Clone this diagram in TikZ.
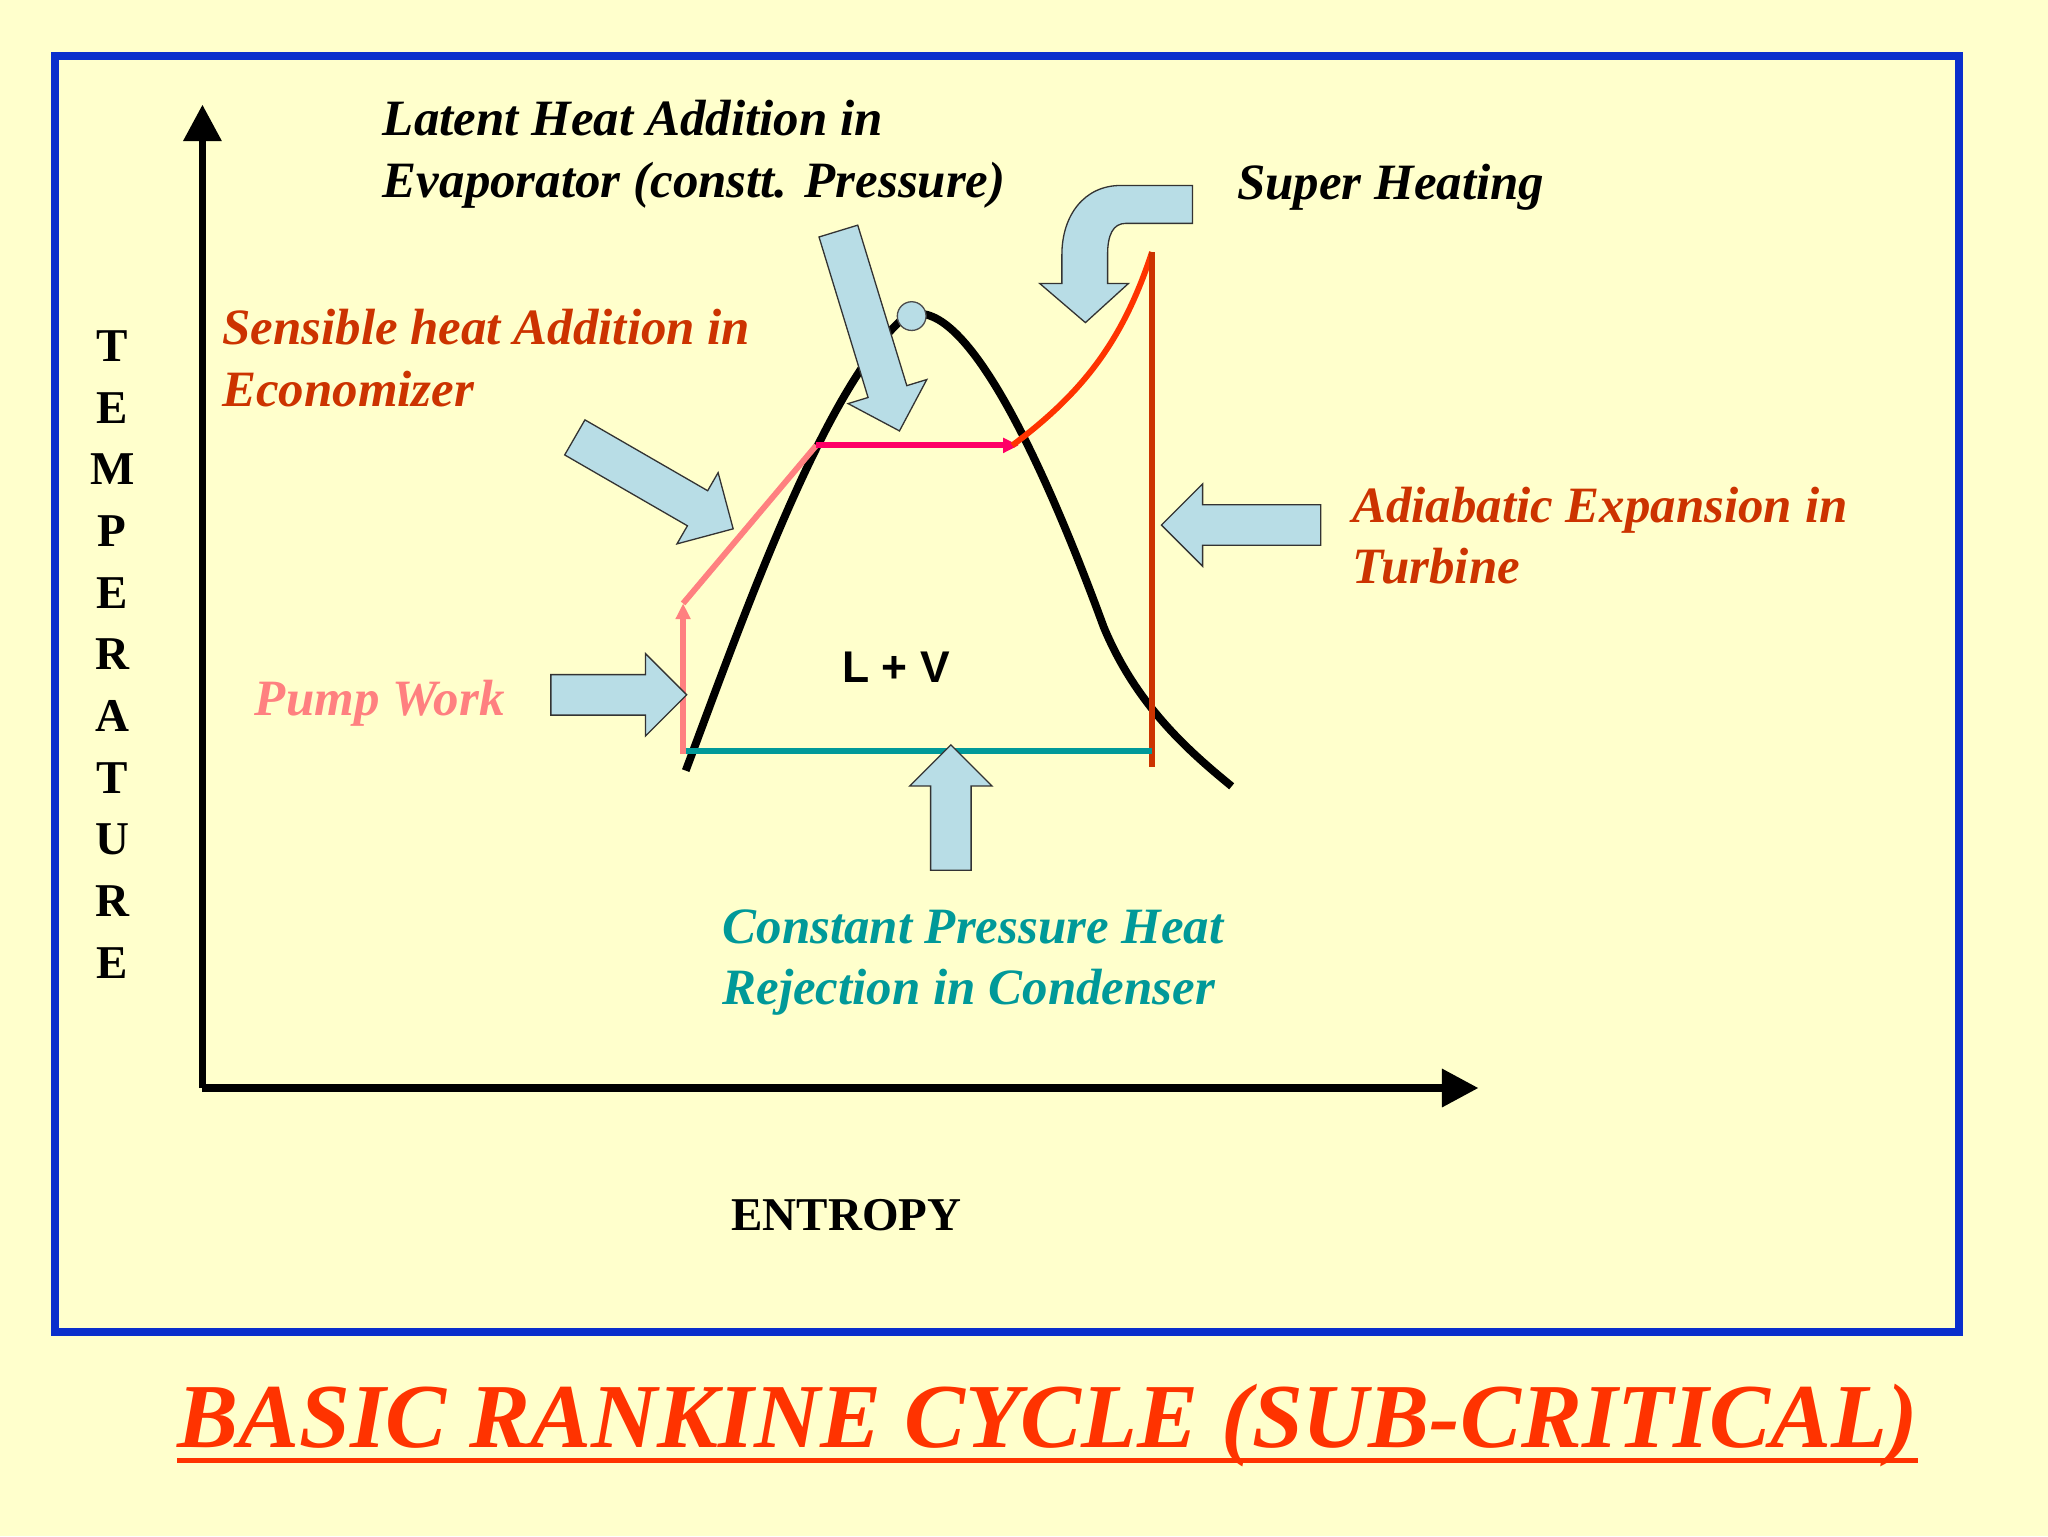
\documentclass[tikz,border=0pt]{standalone}
\usepackage{fontspec}
\setmainfont{Liberation Serif}
\newfontfamily\sansf{Liberation Sans}
\usetikzlibrary{shapes.arrows,arrows.meta}
\definecolor{bg}{HTML}{FFFFCC}
\definecolor{frame}{HTML}{0A2FCC}
\definecolor{lab}{HTML}{CC3300}
\definecolor{pumpc}{HTML}{FF8080}
\definecolor{tealc}{HTML}{009999}
\definecolor{magc}{HTML}{FF0066}
\definecolor{supc}{HTML}{FF3300}
\definecolor{arrf}{HTML}{B8DDE6}
\begin{document}
\begin{tikzpicture}[x=1pt,y=-1pt,
  barrow/.style={single arrow,draw=black!80,fill=arrf,line width=1pt,minimum width=62pt,single arrow head extend=16pt,single arrow head indent=0pt,inner xsep=0pt,inner ysep=15pt,anchor=center},
  lbl/.style={font=\fontsize{39}{44}\selectfont\bfseries\itshape,anchor=base west,inner sep=0pt},
  axl/.style={font=\fontsize{36}{40}\selectfont\bfseries,inner sep=0pt},
  cyc/.style={line width=4.5pt}]
\fill[bg] (0,0) rectangle (1568,1176);
\useasboundingbox (0,0) rectangle (1568,1176);
\draw[frame,line width=6pt] (42,43) rectangle (1500,1020);
% axes
\coordinate (o) at (155,833);
\coordinate (ytop) at (155,80);
\coordinate (xend) at (1132,833);
\draw[line width=6pt,-{Triangle[length=28pt,width=28pt]}] (o) -- (ytop);
\draw[line width=6pt,-{Triangle[length=28pt,width=28pt]}] (o) -- (xend);
\foreach \l [count=\i] in {T,E,M,P,E,R,A,T,U,R,E}
  \node[axl] (t\i) at (86,{265+47.2*(\i-1)}) {\l};
\node[axl] (ent) at (648,930) {ENTROPY};
% dome
\draw[line width=6pt] (525,590) .. controls (570,470) and (630,300) .. (690,245)
  .. controls (730,215) and (790,330) .. (845,480)
  .. controls (870,540) and (910,575) .. (943,602);
% cycle
\coordinate (a) at (523,577); \coordinate (b) at (523,462);
\coordinate (c) at (625,341); \coordinate (d) at (780,341);
\coordinate (e) at (882,193); \coordinate (f) at (882,587);
\coordinate (g) at (525,575); \coordinate (h) at (882,575);
\draw[pumpc,cyc,-{Triangle[length=12pt,width=11pt]}] (a) -- (b);
\draw[pumpc,cyc] (b) -- (c);
\draw[magc,cyc,-{Triangle[length=12pt,width=11pt]}] (c) -- (d);
\draw[supc,cyc] (775,341) .. controls (830,300) and (860,260) .. (e);
\draw[lab,cyc] (e) -- (f);
\draw[tealc,cyc] (g) -- (h);
\node[draw=black!70,fill=arrf,circle,minimum size=22pt,inner sep=0pt,line width=1pt] (cp) at (698,242) {};
\node[font=\fontsize{34}{40}\selectfont\sansf\bfseries] (lv) at (686,511) {L + V};
% block arrows
\node[barrow,minimum height=104pt] (pa) at (466,532) {};
\node[barrow,minimum height=140pt,rotate=-30] (ea) at (494,366) {};
\node[barrow,minimum height=160pt,rotate=-73] (va) at (663,246) {};
\node[barrow,minimum height=122pt,rotate=180] (ta) at (958,402) {};
\node[barrow,minimum height=96pt,rotate=90] (ca) at (728,626) {};
% super heating curved arrow
\filldraw[fill=arrf,draw=black!80,line width=1pt] (913,142) -- (858,142) .. controls (830,142) and (813,165) .. (813,195)
  -- (813,217) -- (796,217) -- (831,247) -- (864,217) -- (848,217) -- (848,195)
  .. controls (848,180) and (852,171) .. (862,171) -- (913,171) -- cycle;
% labels
\node[lbl] (l1) at (293,104) {Latent Heat Addition in};
\node[lbl] (l2) at (293,151) {Evaporator (constt. Pressure)};
\node[lbl] (s1) at (947,153) {Super Heating};
\node[lbl,text=lab] (e1) at (170,264) {Sensible heat Addition in};
\node[lbl,text=lab] (e2) at (170,311) {Economizer};
\node[lbl,text=lab] (a1) at (1035,400) {Adiabatic Expansion in};
\node[lbl,text=lab] (a2) at (1035,447) {Turbine};
\node[lbl,text=pumpc] (p1) at (195,548) {Pump Work};
\node[lbl,text=tealc] (c1) at (553,722) {Constant Pressure Heat};
\node[lbl,text=tealc] (c2) at (553,769) {Rejection in Condenser};
\node[font=\fontsize{70}{76}\selectfont\bfseries\itshape,text=supc,inner sep=0pt,anchor=base] (title) at (802,1108) {BASIC RANKINE CYCLE (SUB-CRITICAL)};
\draw[supc,line width=3.5pt] ([yshift=-10pt]title.base west) -- ([yshift=-10pt]title.base east);
\end{tikzpicture}
\end{document}
